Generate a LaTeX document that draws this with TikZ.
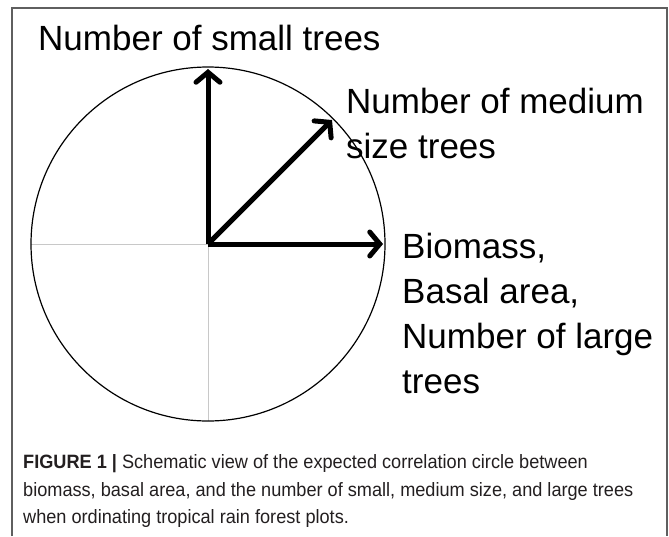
\documentclass[tikz,border=0pt]{standalone}
\usepackage{fontspec}
\setmainfont{Liberation Sans}
\newfontfamily\capfont[FakeStretch=0.94]{Liberation Sans}
\usetikzlibrary{arrows.meta}
\definecolor{framegray}{RGB}{95,95,95}
\definecolor{axisgray}{RGB}{200,200,200}
\definecolor{captext}{RGB}{35,31,32}
\tikzset{
  lbl/.style={anchor=base west, inner sep=0pt, font=\fontsize{35}{42}\selectfont},
  capline/.style={anchor=base west, inner sep=0pt, text=captext, font=\capfont\fontsize{19.3}{26}\selectfont},
  vec/.style={line width=5pt, -{Straight Barb[length=10pt,width=24pt,line width=5pt,line cap=round]}},
  axisline/.style={axisgray, line width=1pt},
}
\begin{document}
\begin{tikzpicture}[x=1pt,y=-1pt]
\useasboundingbox (0,0) rectangle (669,536);
\fill[white] (0,0) rectangle (669,536);
% frame
\draw[framegray, line width=1.3pt] (12,536) -- (12,8) -- (667,8) -- (667,536);
% axes and circle
\coordinate (o) at (208,244);
\coordinate (l) at (31,244);
\coordinate (d) at (208,421);
\draw[axisline] (l) -- (o);
\draw[axisline] (o) -- (d);
\draw[line width=1.2pt] (o) circle[radius=177];
% vectors
\coordinate (s) at (208,69);
\coordinate (m) at (332,120);
\coordinate (b) at (383,244);
\draw[vec] (o) -- (s);
\draw[vec] (o) -- (m);
\draw[vec] (o) -- (b);
% labels
\node[lbl] (ls) at (38,50) {Number of small trees};
\node[lbl] (lm1) at (346,113) {Number of medium};
\node[lbl] (lm2) at (346,158) {size trees};
\node[lbl] (lb1) at (402,258) {Biomass,};
\node[lbl] (lb2) at (402,303) {Basal area,};
\node[lbl] (lb3) at (402,348) {Number of large};
\node[lbl] (lb4) at (402,393) {trees};
% caption
\node[capline] (c1) at (23,468) {\textbf{FIGURE 1 |} Schematic view of the expected correlation circle between};
\node[capline] (c2) at (23,496) {biomass, basal area, and the number of small, medium size, and large trees};
\node[capline] (c3) at (23,523) {when ordinating tropical rain forest plots.};
\end{tikzpicture}
\end{document}
